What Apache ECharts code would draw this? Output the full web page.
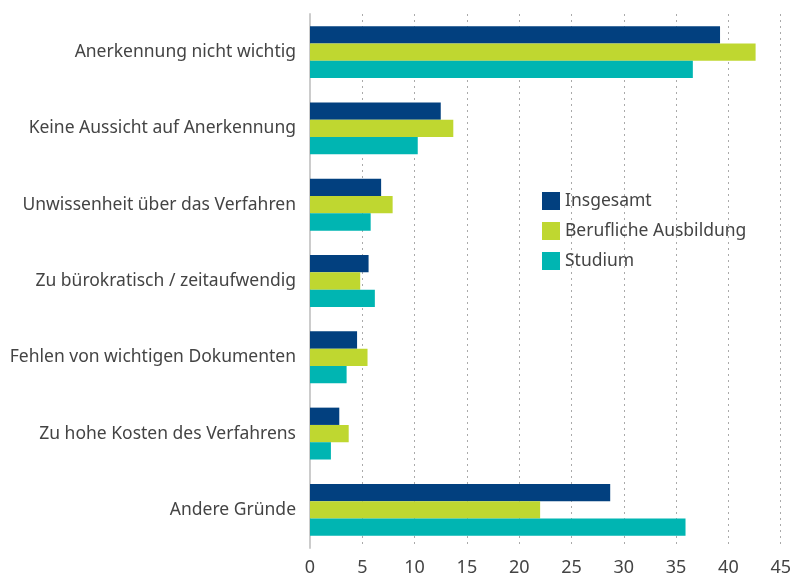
<!DOCTYPE html>
<html>
<head>
<meta charset="utf-8">
<script src="https://cdn.jsdelivr.net/npm/echarts@6/dist/echarts.min.js"></script>
<style>
  html, body { margin: 0; padding: 0; background: #fff; }
  #chart { width: 794px; height: 578px; }
</style>
</head>
<body>
<div id="chart"></div>
<script>
// Gründe, keine Anerkennung zu beantragen (in %)
var aCategories = [
    'Anerkennung nicht wichtig',
    'Keine Aussicht auf Anerkennung',
    'Unwissenheit über das Verfahren',
    'Zu bürokratisch / zeitaufwendig',
    'Fehlen von wichtigen Dokumenten',
    'Zu hohe Kosten des Verfahrens',
    'Andere Gründe'
];
var aSeriesNames = ['Insgesamt', 'Berufliche Ausbildung', 'Studium'];
var aInsgesamt = [39.2, 12.5, 6.8, 5.6, 4.5, 2.8, 28.7];
var aBeruflich = [42.6, 13.7, 7.9, 4.8, 5.5, 3.7, 22.0];
var aStudium = [36.6, 10.3, 5.8, 6.2, 3.5, 2.0, 35.9];
var aTicks = [0, 5, 10, 15, 20, 25, 30, 35, 40, 45];

var aColors = ['#02407f', '#bfd730', '#00b5b2'];
var sFont = '"Source Sans Pro", "Noto Sans", sans-serif';

function makeSeries(sName, aData) {
    return {
        name: sName,
        type: 'bar',
        data: aData,
        barGap: '0%',
        barCategoryGap: '32%',
        silent: true
    };
}

var myChart = echarts.init(document.getElementById('chart'), null, {renderer: 'canvas'});
myChart.setOption({
    animation: false,
    color: aColors,
    textStyle: {fontFamily: sFont},
    grid: {left: 310, right: 10, top: 14, bottom: 30, containLabel: false},
    legend: {
        orient: 'vertical',
        left: 537,
        top: 187,
        itemWidth: 18,
        itemHeight: 18,
        itemGap: 12,
        icon: 'rect',
        textStyle: {fontSize: 17.5, color: '#444', fontFamily: sFont},
        data: aSeriesNames
    },
    xAxis: {
        type: 'value',
        min: aTicks[0],
        max: aTicks[aTicks.length - 1],
        interval: 5,
        axisLine: {show: false},
        axisTick: {show: false},
        axisLabel: {fontSize: 18, color: '#444', margin: 11, fontFamily: sFont},
        splitLine: {
            show: true,
            lineStyle: {color: '#aaa', width: 1, type: [2, 4]}
        }
    },
    yAxis: {
        type: 'category',
        inverse: true,
        data: aCategories,
        axisLine: {show: true, lineStyle: {color: '#ccc', width: 2}},
        axisTick: {show: false},
        axisLabel: {fontSize: 17.5, color: '#444', margin: 14, padding: [6, 0, 0, 0], fontFamily: sFont}
    },
    series: [
        makeSeries(aSeriesNames[0], aInsgesamt),
        makeSeries(aSeriesNames[1], aBeruflich),
        makeSeries(aSeriesNames[2], aStudium)
    ]
});
</script>
</body>
</html>
